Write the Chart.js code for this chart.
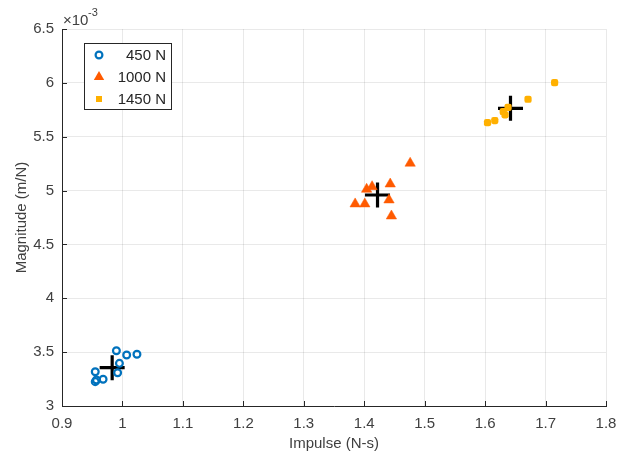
<!DOCTYPE html>
<html>
<head>
<meta charset="utf-8">
<script src="https://cdn.jsdelivr.net/npm/chart.js@4/dist/chart.umd.min.js"></script>
<style>
  html, body { margin: 0; padding: 0; background: #fff; }
  #wrap { width: 630px; height: 459px; }
</style>
</head>
<body>
<div id="wrap"><canvas id="impulseChart" width="630" height="459"></canvas></div>
<script>
// Series (magnitude values are in units of 1e-3 m/N)
const labels = ['450 N', '1000 N', '1450 N'];

const impulse450 = [0.990, 1.007, 1.024, 0.995, 0.992, 0.955, 0.968, 0.957, 0.955];
const mag450     = [3.513, 3.474, 3.480, 3.396, 3.309, 3.318, 3.248, 3.241, 3.226];

const impulse1000 = [1.476, 1.404, 1.413, 1.443, 1.441, 1.385, 1.401, 1.445];
const mag1000     = [5.254, 5.012, 5.036, 5.061, 4.913, 4.876, 4.876, 4.764];

const impulse1450 = [1.715, 1.671, 1.638, 1.630, 1.633, 1.616, 1.604];
const mag1450     = [6.002, 5.848, 5.773, 5.733, 5.703, 5.649, 5.630];

// cluster centres (black crosses)
const meanImpulse = [0.983, 1.422, 1.642];
const meanMag     = [3.356, 4.959, 5.764];

const xTicks = [0.9, 1, 1.1, 1.2, 1.3, 1.4, 1.5, 1.6, 1.7, 1.8];
const yTicks = [3, 3.5, 4, 4.5, 5, 5.5, 6, 6.5];

const colors = ['#0072BD', '#FF5A00', '#FFB000'];
const fontFamily = '"Liberation Sans", Arial, Helvetica, sans-serif';
const axisColor = '#262626';
const textColor = '#404040';

function pts(xs, ys) {
    return xs.map((x, i) => ({ x: x, y: ys[i] }));
}

// draws one legend marker the same way as the datasets look
function drawMarker(ctx, idx, x, y) {
    ctx.save();
    if (idx === 0) {
        ctx.beginPath();
        ctx.arc(x, y, 3.4, 0, Math.PI * 2);
        ctx.lineWidth = 2.2;
        ctx.strokeStyle = colors[0];
        ctx.stroke();
    } else if (idx === 1) {
        const r = 6;
        ctx.beginPath();
        for (let k = 0; k < 3; k++) {
            const a = k * 2 * Math.PI / 3;
            const px = x + Math.sin(a) * r, py = y - Math.cos(a) * r;
            if (k === 0) ctx.moveTo(px, py); else ctx.lineTo(px, py);
        }
        ctx.closePath();
        ctx.fillStyle = colors[1];
        ctx.fill();
    } else {
        ctx.fillStyle = colors[2];
        ctx.fillRect(x - 3, y - 3, 6, 6);
    }
    ctx.restore();
}

const matlabLook = {
    id: 'matlabLook',
    afterDatasetsDraw(chart) {
        const ctx = chart.ctx;
        const xs = chart.scales.x, ys = chart.scales.y;
        const area = chart.chartArea;

        // inward tick marks on left and bottom axes
        ctx.save();
        ctx.strokeStyle = axisColor;
        ctx.lineWidth = 1;
        ctx.beginPath();
        xTicks.forEach(v => {
            const px = Math.round(xs.getPixelForValue(v)) + 0.5;
            ctx.moveTo(px, area.bottom);
            ctx.lineTo(px, area.bottom - 5);
        });
        yTicks.forEach(v => {
            const py = Math.round(ys.getPixelForValue(v)) + 0.5;
            ctx.moveTo(area.left, py);
            ctx.lineTo(area.left + 5, py);
        });
        ctx.stroke();

        // exponent label
        ctx.fillStyle = textColor;
        ctx.textBaseline = 'alphabetic';
        ctx.textAlign = 'left';
        ctx.font = '15px ' + fontFamily;
        ctx.fillText('\u00d710', area.left + 1, 25);
        ctx.font = '11px ' + fontFamily;
        ctx.fillText('-3', area.left + 26, 16);

        // legend box
        const bx = 84.5, by = 43.5, bw = 87, bh = 66;
        ctx.fillStyle = '#fff';
        ctx.fillRect(bx, by, bw, bh);
        ctx.strokeStyle = axisColor;
        ctx.strokeRect(bx, by, bw, bh);
        ctx.font = '15px ' + fontFamily;
        ctx.textAlign = 'right';
        ctx.textBaseline = 'middle';
        labels.forEach((lab, i) => {
            const ry = 55 + i * 22;
            drawMarker(ctx, i, 99, ry);
            ctx.fillStyle = axisColor;
            ctx.fillText(lab, 166, ry + 1);
        });
        ctx.restore();
    }
};

const ctx = document.getElementById('impulseChart').getContext('2d');
const impulseChart = new Chart(ctx, {
    type: 'scatter',
    data: {
        datasets: [
            {
                label: labels[0],
                data: pts(impulse450, mag450),
                pointStyle: 'circle',
                pointRadius: 3.4,
                pointBorderWidth: 2.2,
                borderColor: colors[0],
                backgroundColor: 'rgba(0,0,0,0)'
            },
            {
                label: labels[1],
                data: pts(impulse1000, mag1000),
                pointStyle: 'triangle',
                pointRadius: 6,
                pointBorderWidth: 0.5,
                borderColor: colors[1],
                backgroundColor: colors[1]
            },
            {
                label: labels[2],
                data: pts(impulse1450, mag1450),
                pointStyle: 'rectRounded',
                pointRadius: 4.2,
                pointBorderWidth: 0,
                borderColor: colors[2],
                backgroundColor: colors[2]
            },
            {
                label: 'mean',
                data: pts(meanImpulse, meanMag),
                pointStyle: 'cross',
                pointRadius: 12.5,
                pointBorderWidth: 3.2,
                borderColor: '#000',
                backgroundColor: '#000'
            }
        ]
    },
    options: {
        responsive: false,
        animation: false,
        layout: { padding: { top: 29, right: 24, left: 0, bottom: 0 } },
        plugins: {
            legend: { display: false },
            tooltip: { enabled: false }
        },
        scales: {
            x: {
                type: 'linear',
                min: 0.9,
                max: 1.8,
                afterBuildTicks: s => { s.ticks = xTicks.map(v => ({ value: v })); },
                afterFit: s => { s.height = 53; },
                ticks: {
                    color: textColor,
                    padding: 9,
                    font: { family: fontFamily, size: 15 },
                    callback: v => String(v)
                },
                grid: { color: 'rgba(38,38,38,0.1)', drawTicks: false },
                border: { color: axisColor },
                title: {
                    display: true,
                    text: 'Impulse (N-s)',
                    color: textColor,
                    font: { family: fontFamily, size: 15 },
                    padding: { top: 0, bottom: 6 }
                }
            },
            y: {
                type: 'linear',
                min: 3,
                max: 6.5,
                afterBuildTicks: s => { s.ticks = yTicks.map(v => ({ value: v })); },
                afterFit: s => { s.width = 62; },
                ticks: {
                    color: textColor,
                    padding: 8,
                    font: { family: fontFamily, size: 15 },
                    callback: v => String(v)
                },
                grid: { color: 'rgba(38,38,38,0.1)', drawTicks: false },
                border: { color: axisColor },
                title: {
                    display: true,
                    text: 'Magnitude (m/N)',
                    color: textColor,
                    font: { family: fontFamily, size: 15 },
                    padding: { top: 13, bottom: 0 }
                }
            }
        }
    },
    plugins: [matlabLook]
});
</script>
</body>
</html>
